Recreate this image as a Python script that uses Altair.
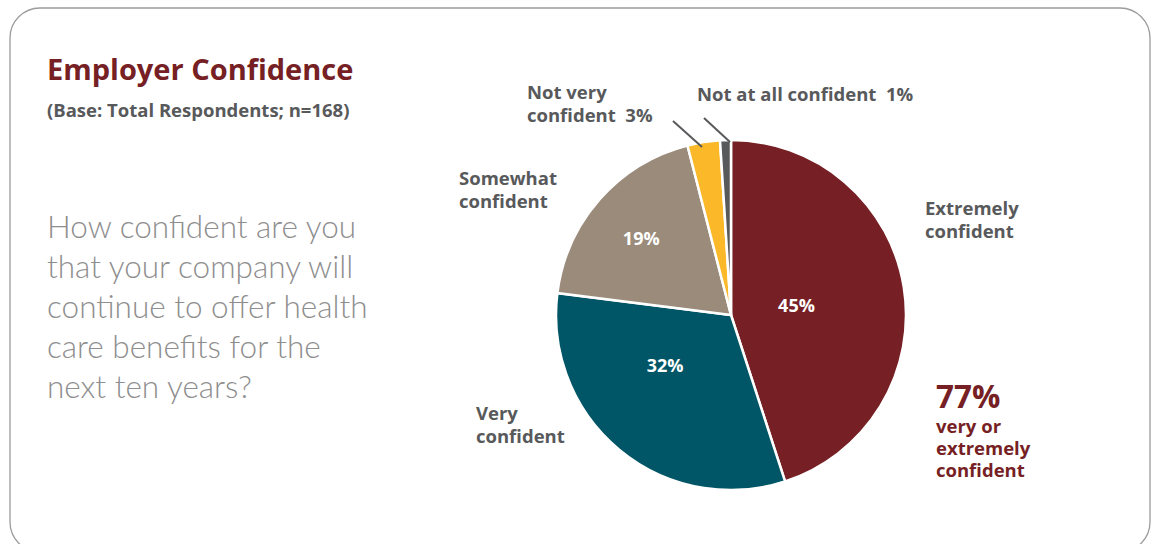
import altair as alt
import pandas as pd

# ---- data ----
categories = ["Extremely confident", "Very confident", "Somewhat confident",
              "Not very confident", "Not at all confident"]
shares = [45, 32, 19, 3, 1]
inside_labels = ["45%", "32%", "19%", "", ""]
colors = ["#761F24", "#005566", "#9A8B7B", "#FBB829", "#58595B"]

title_text = "Employer Confidence"
subtitle_text = "(Base: Total Respondents; n=168)"
question_lines = ["How confident are you", "that your company will",
                  "continue to offer health", "care benefits for the",
                  "next ten years?"]
summary_value = "77%"
summary_lines = ["very or", "extremely", "confident"]

df = pd.DataFrame({"category": categories, "share": shares,
                   "label": inside_labels, "order": list(range(len(shares)))})

CX, CY, R = 731, 315, 175
FONT = "Open Sans"
DARK_RED = "#761F24"
GRAY = "#58595B"

one = alt.Data(values=[{}])

frame = alt.Chart(one).mark_rect(
    cornerRadius=30, fill="white", stroke="#9C9C9C", strokeWidth=1.3
).encode(x=alt.value(10), x2=alt.value(1150), y=alt.value(8), y2=alt.value(552))

pie = alt.Chart(df).mark_arc(outerRadius=R, stroke="white", strokeWidth=2.5).encode(
    theta=alt.Theta("share:Q", stack=True),
    order=alt.Order("order:Q"),
    color=alt.Color("category:N", scale=alt.Scale(domain=categories, range=colors), legend=None),
    x=alt.value(CX), y=alt.value(CY),
)

# label placement: radius (px) and angular nudge (deg) per slice
inner = alt.Chart(df).transform_window(
    cum="sum(share)", sort=[alt.SortField("order")], frame=[None, 0]
).transform_joinaggregate(total="sum(share)").transform_calculate(
    r="datum.order == 0 ? 66 : (datum.order == 1 ? 84 : 117)",
    nudge="datum.order == 0 ? 2 : (datum.order == 1 ? 12 : -1.5)",
    a="(datum.cum - datum.share / 2) / datum.total * 2 * PI + datum.nudge * PI / 180",
).transform_calculate(
    px=f"{CX} + datum.r * sin(datum.a)",
    py=f"{CY} - datum.r * cos(datum.a)",
).mark_text(font=FONT, fontWeight="bold", fontSize=18, color="white").encode(
    x=alt.X("px:Q", scale=None),
    y=alt.Y("py:Q", scale=None),
    text="label:N",
)

def txt(x, y, lines, size, color, weight="bold", lh=None, font=FONT):
    kw = dict(font=font, fontSize=size, fontWeight=weight, color=color,
              align="left", baseline="alphabetic")
    if lh:
        kw["lineHeight"] = lh
    return alt.Chart(one).mark_text(**kw).encode(
        x=alt.value(x), y=alt.value(y), text=alt.value(lines))

leaders = [
    alt.Chart(one).mark_rule(color=GRAY, strokeWidth=2).encode(
        x=alt.value(673), y=alt.value(121), x2=alt.value(702), y2=alt.value(147)),
    alt.Chart(one).mark_rule(color=GRAY, strokeWidth=2).encode(
        x=alt.value(704), y=alt.value(118), x2=alt.value(730), y2=alt.value(142)),
]

NB = "\u00a0"
texts = [
    txt(47, 80, title_text, 29, DARK_RED),
    txt(47, 117, subtitle_text, 18.5, GRAY),
    txt(47, 238, question_lines, 31.5, "#8E8E8E", weight=300, lh=40, font="Lato"),
    txt(527, 99, ["Not very", "confident" + NB + " 3%"], 18.5, GRAY, lh=23),
    txt(697, 101, "Not at all confident" + NB + " 1%", 18.5, GRAY),
    txt(459, 185, ["Somewhat", "confident"], 18.5, GRAY, lh=23),
    txt(925, 215, ["Extremely", "confident"], 18.5, GRAY, lh=23),
    txt(476, 420, ["Very", "confident"], 18.5, GRAY, lh=23),
    txt(936, 408, summary_value, 31.5, DARK_RED),
    txt(936, 433, summary_lines, 18.5, DARK_RED, lh=22),
]

chart = alt.layer(frame, pie, inner, *leaders, *texts).properties(
    width=1152, height=544, autosize=alt.AutoSizeParams(type="none"), padding=0,
    background="white"
).configure_view(strokeWidth=0)

chart.save("out.html", embed_options={"renderer": "svg", "actions": False})
